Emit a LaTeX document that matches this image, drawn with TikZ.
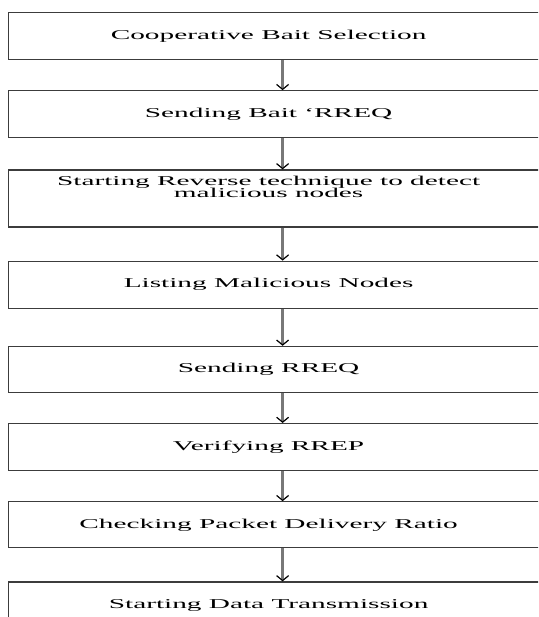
\documentclass[tikz,border=0pt]{standalone}
\usepackage{fontspec}
\setmainfont{Liberation Serif}
\usepackage{graphicx}
\usetikzlibrary{arrows.meta, positioning}
\usepackage{xcolor}
\definecolor{boxgray}{RGB}{60,60,60}
\definecolor{shaftgray}{RGB}{120,120,120}
\newcommand{\wide}[1]{\scalebox{2.17}[1]{#1}\hspace*{14pt}}

\begin{document}
\begin{tikzpicture}[
        			x=1pt, y=-1pt,
        			stepbox/.style={shape=rectangle, draw=boxgray, line width=1.2pt, minimum width=534pt, minimum height=47pt, inner sep=0pt, anchor=north, font=\fontsize{13.5}{13.5}\selectfont, align=center},
        			flowarrow/.style={draw=shaftgray, line width=2.6pt, -{Straight Barb[color=black, length=5pt, width=12pt, line width=1.2pt]}}
        			]

        			%% Frame
        			\useasboundingbox (0,0) rectangle (538,617);
        			\clip (0,0) rectangle (538,617);

        			%% Boxes
        			\node[stepbox, anchor=north west] (bait) at (8,12) {\wide{Cooperative Bait Selection}};
        			\node[stepbox, below=30pt of bait] (sendbait) {\wide{Sending Bait `RREQ}};
        			\node[stepbox, below=31pt of sendbait, minimum height=57pt, text depth=23pt] (reverse) {\wide{Starting Reverse technique to detect}\\[-1pt]\wide{malicious nodes}};
        			\node[stepbox, below=33pt of reverse] (listing) {\wide{Listing Malicious Nodes}};
        			\node[stepbox, below=37pt of listing, minimum height=46pt] (sendrreq) {\wide{Sending RREQ}};
        			\node[stepbox, below=30pt of sendrreq] (verify) {\wide{Verifying RREP}};
        			\node[stepbox, below=30pt of verify, minimum height=46pt] (pdr) {\wide{Checking Packet Delivery Ratio}};
        			\node[stepbox, below=33pt of pdr] (datatx) {\wide{Starting Data Transmission}};

% Arrows
                            \foreach \from/\to in {bait/sendbait, sendbait/reverse, reverse/listing, listing/sendrreq, sendrreq/verify, verify/pdr, pdr/datatx} {
                                \draw[flowarrow] ([xshift=7pt]\from.south) -- ([xshift=7pt]\to.north);
                            }
        \end{tikzpicture}
\end{document}
